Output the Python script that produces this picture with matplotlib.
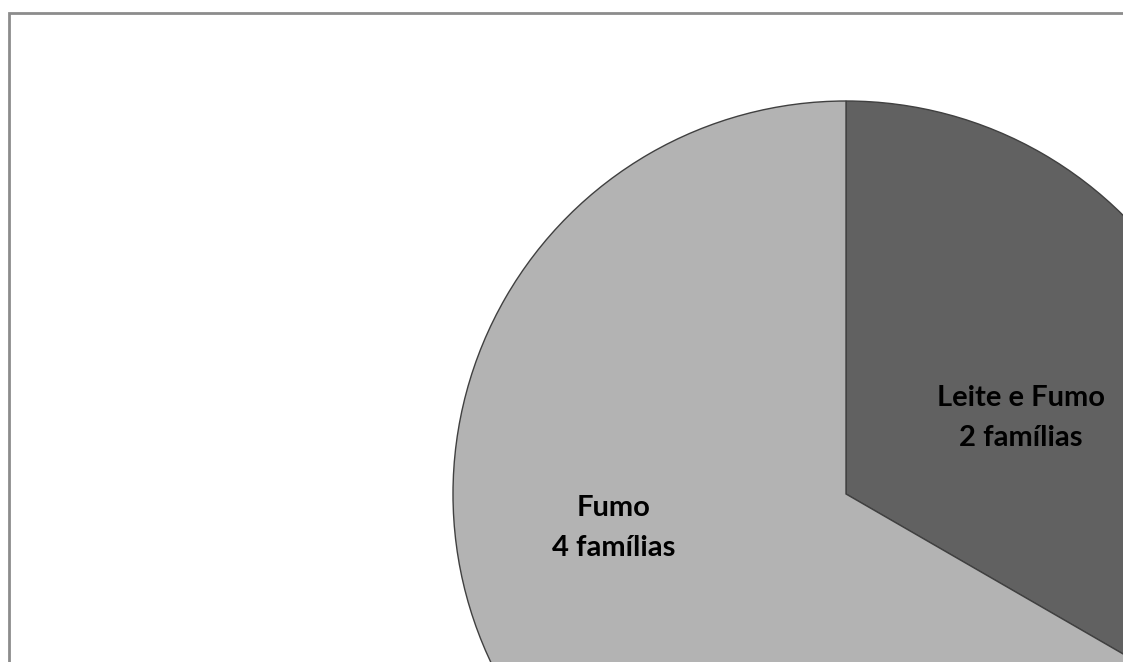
import matplotlib
matplotlib.use("Agg")
import matplotlib.pyplot as plt
from matplotlib.patches import Rectangle

# Data
categories = ["Leite e Fumo", "Fumo"]
families = [2, 4]
colors = ["#616161", "#b3b3b3"]

W, H = 1123, 662
fig = plt.figure(figsize=(W / 100, H / 100), dpi=100)
ax = fig.add_axes([0, 0, 1, 1])

# Pie in pixel-like coordinates (y measured from bottom)
cx, cy, r = 846, H - 494, 393
wedges, _ = ax.pie(
    families,
    colors=colors,
    startangle=90,
    counterclock=False,
    center=(cx, cy),
    radius=r,
    frame=True,
    wedgeprops=dict(edgecolor="#404040", linewidth=1.0),
)
ax.set_xlim(0, W)
ax.set_ylim(0, H)
ax.set_aspect("auto")
ax.axis("off")

# Chart area border (top and left edges are visible)
ax.add_patch(Rectangle((8.5, -50), W + 100, H - 12.5 + 50, fill=False,
                       edgecolor="#8c8c8c", linewidth=2.0, zorder=5))

font = dict(family=["Lato", "DejaVu Sans"], fontweight="bold", fontsize=21,
            color="black", ha="center", va="center", linespacing=1.7)
ax.text(1021, H - 418, f"{categories[0]}\n{families[0]} famílias", **font)
ax.text(614, H - 528, f"{categories[1]}\n{families[1]} famílias", **font)

fig.savefig("out.png", dpi=100)
